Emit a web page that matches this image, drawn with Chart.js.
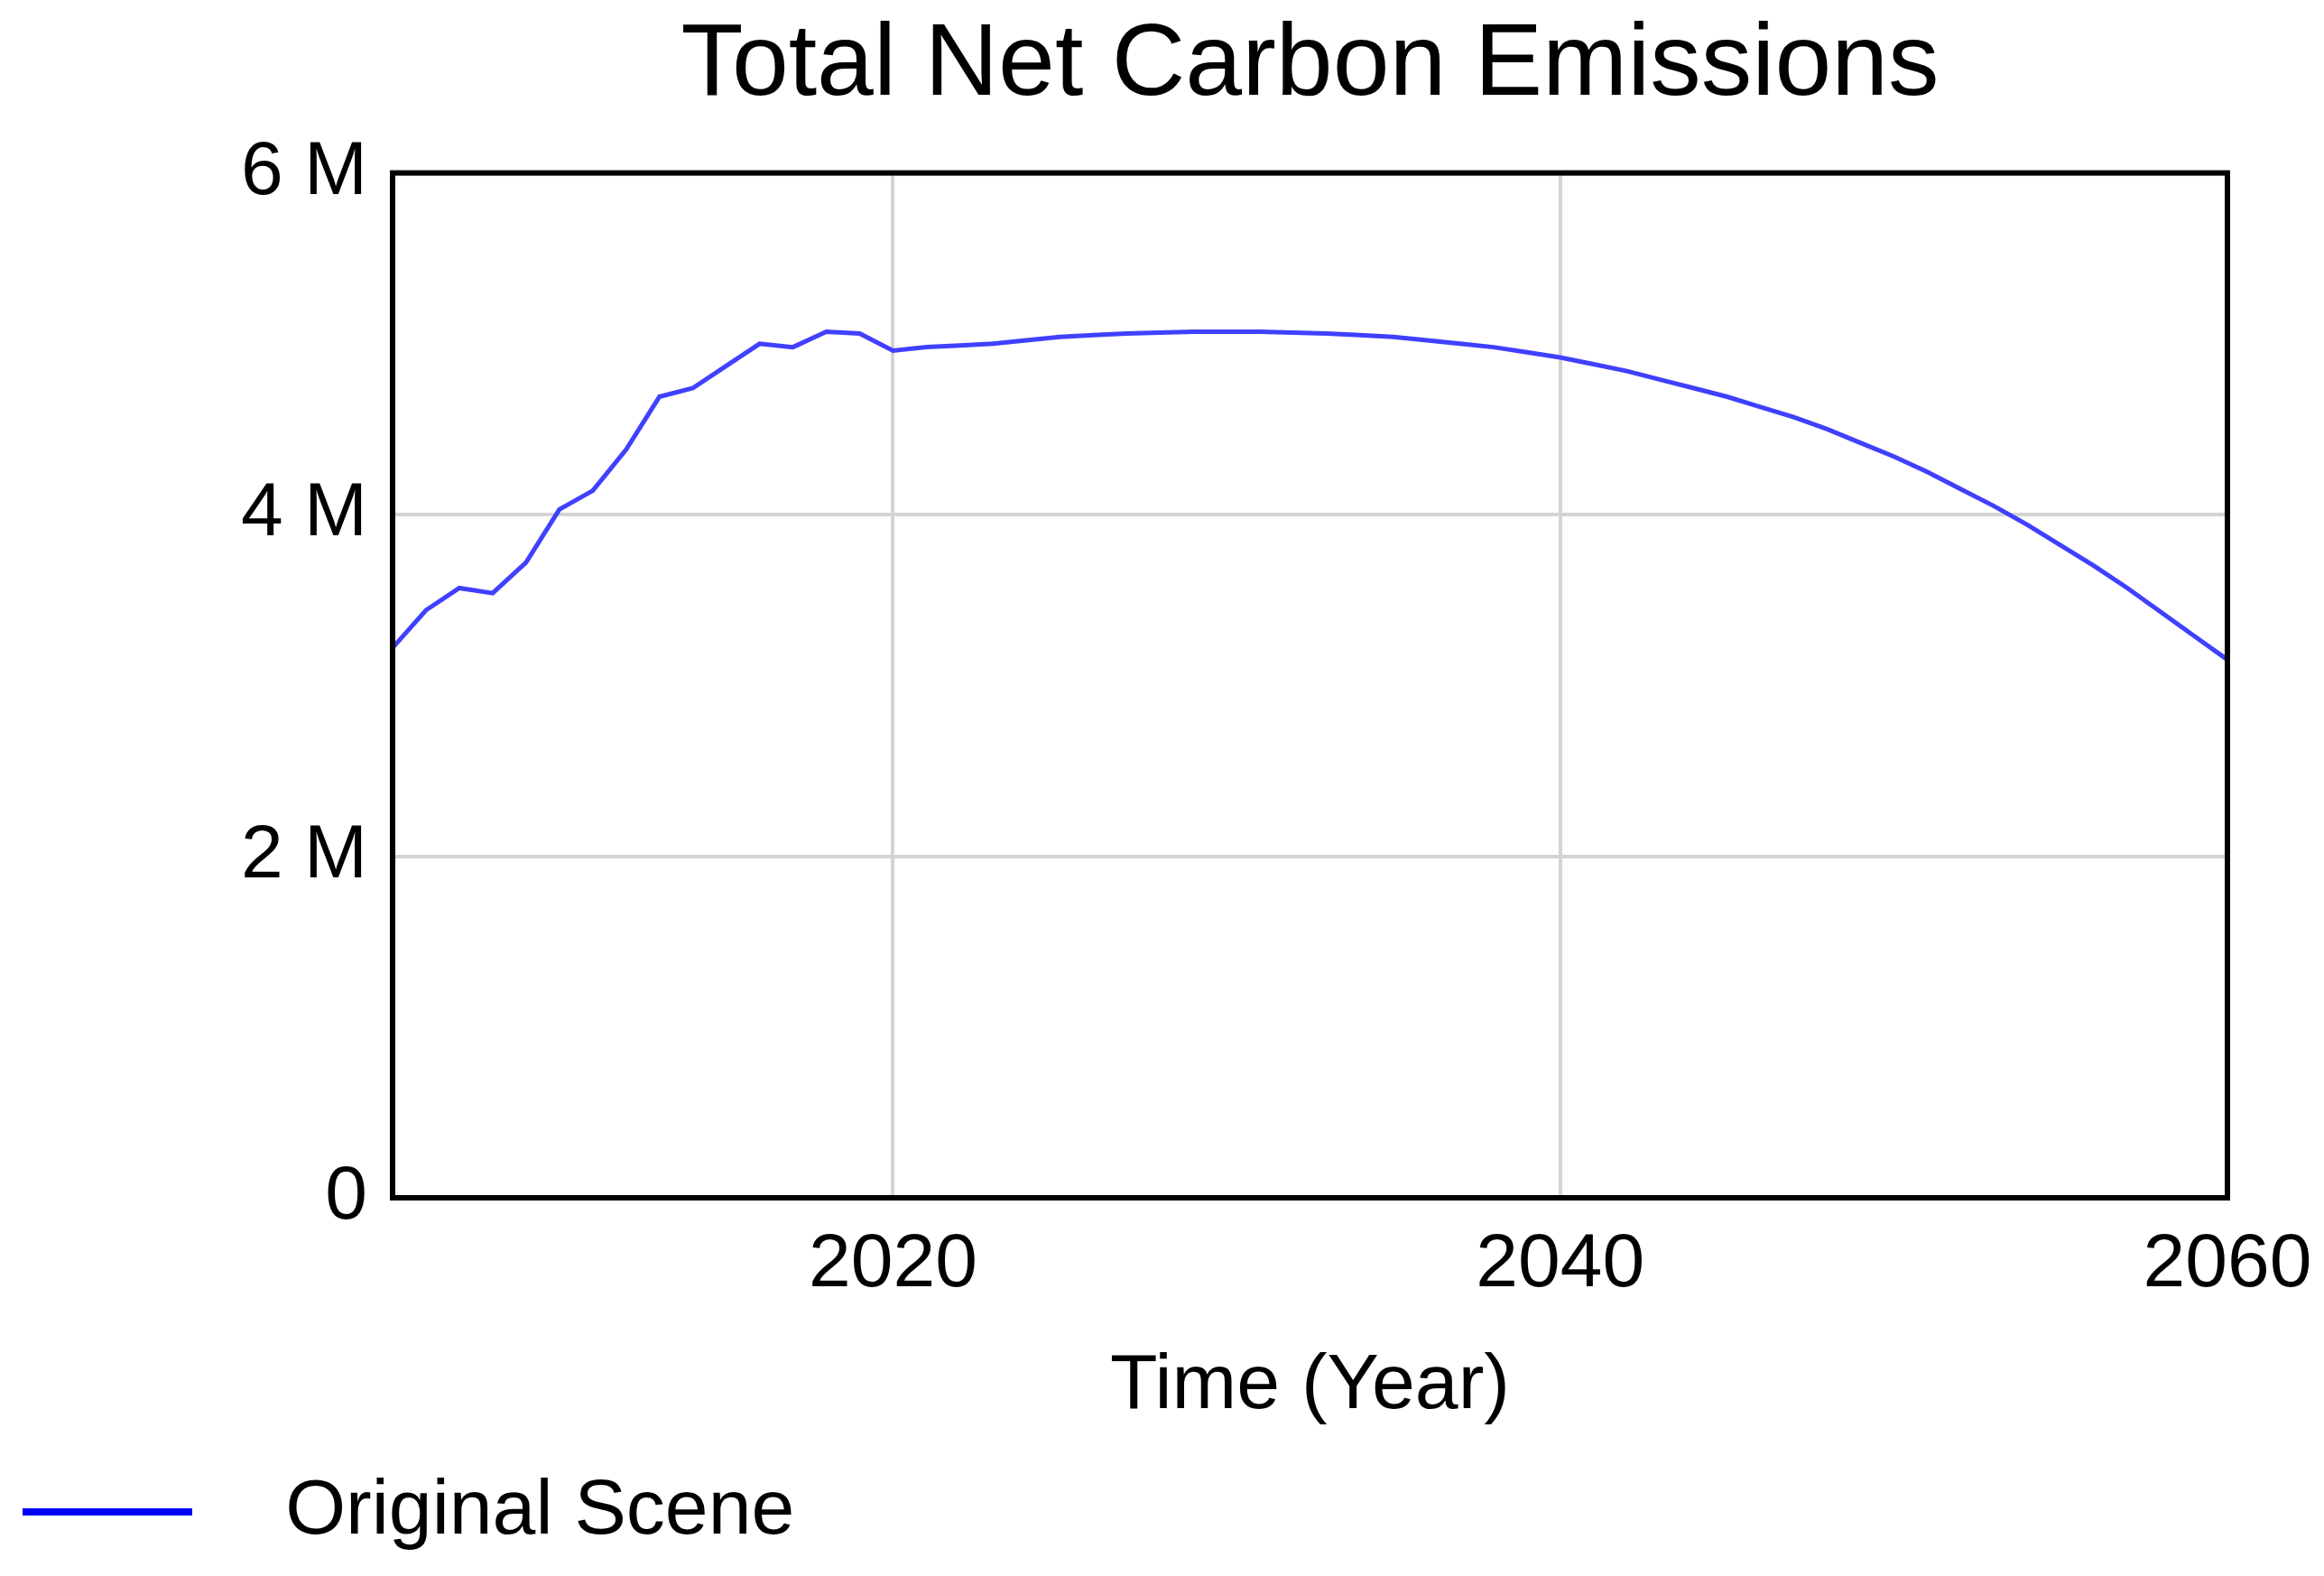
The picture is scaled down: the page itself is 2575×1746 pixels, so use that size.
<!DOCTYPE html>
<html>
<head>
<meta charset="utf-8">
<title>Total Net Carbon Emissions</title>
<script src="https://cdn.jsdelivr.net/npm/chart.js@4.4.1/dist/chart.umd.min.js"></script>
<style>
  html, body { margin: 0; padding: 0; background: #fff; }
  canvas { display: block; }
</style>
</head>
<body>
<canvas id="emissionsChart" width="2575" height="1746"></canvas>
<script>
// Years on the time axis
const years = [
    2005, 2006, 2007, 2008, 2009, 2010, 2011, 2012, 2013, 2014, 2015, 2016, 2017, 2018,
    2019, 2020, 2021, 2022, 2023, 2024, 2025, 2026, 2027, 2028, 2029, 2030, 2031, 2032,
    2033, 2034, 2035, 2036, 2037, 2038, 2039, 2040, 2041, 2042, 2043, 2044, 2045, 2046,
    2047, 2048, 2049, 2050, 2051, 2052, 2053, 2054, 2055, 2056, 2057, 2058, 2059, 2060
];

// Total net carbon emissions (millions)
const emissions = [
    3.22, 3.44, 3.57, 3.54, 3.72, 4.03, 4.14, 4.38, 4.69, 4.74, 4.87, 5.00, 4.98, 5.07,
    5.06, 4.96, 4.98, 4.99, 5.00, 5.02, 5.04, 5.05, 5.06, 5.065, 5.07, 5.07, 5.07, 5.065,
    5.06, 5.05, 5.04, 5.02, 5.00, 4.98, 4.95, 4.92, 4.88, 4.84, 4.79, 4.74, 4.69, 4.63,
    4.57, 4.50, 4.42, 4.34, 4.25, 4.15, 4.05, 3.94, 3.82, 3.70, 3.57, 3.43, 3.29, 3.15
];

const seriesLabel = 'Original Scene';

// Axis ticks
const xTicks = [2020, 2040, 2060];
const yTicks = [0, 2, 4, 6];
const yTickLabels = ['0', '2 M', '4 M', '6 M'];

const fontFamily = "'Liberation Sans', Arial, sans-serif";

// Black box round the plot area
const plotFrame = {
    id: 'plotFrame',
    afterDatasetsDraw(chart) {
        const { ctx, chartArea } = chart;
        ctx.save();
        ctx.strokeStyle = '#000';
        ctx.lineWidth = 6;
        ctx.strokeRect(chartArea.left, chartArea.top,
            chartArea.right - chartArea.left, chartArea.bottom - chartArea.top);
        ctx.restore();
    }
};

const ctx = document.getElementById('emissionsChart').getContext('2d');
const emissionsChart = new Chart(ctx, {
    type: 'line',
    data: {
        datasets: [{
            label: seriesLabel,
            data: years.map((year, i) => ({ x: year, y: emissions[i] })),
            borderColor: 'rgb(64, 64, 255)',
            backgroundColor: '#0000ff',
            borderWidth: 5,
            pointRadius: 0,
            tension: 0,
            fill: false
        }]
    },
    options: {
        responsive: false,
        animation: false,
        layout: {
            padding: { left: 15, right: 107, top: 0, bottom: 18 }
        },
        plugins: {
            title: {
                display: true,
                fullSize: false,   // centre over the plot, not the whole canvas
                text: 'Total Net Carbon Emissions',
                color: '#000',
                font: { family: fontFamily, size: 113, weight: 'normal' },
                padding: { top: 6, bottom: 50 }
            },
            legend: {
                position: 'bottom',
                align: 'start',
                labels: {
                    usePointStyle: true,
                    pointStyle: 'line',
                    pointStyleWidth: 188,
                    padding: 10,
                    color: '#000',
                    font: { family: fontFamily, size: 86 },
                    generateLabels(chart) {
                        const items = Chart.defaults.plugins.legend.labels.generateLabels(chart);
                        items.forEach(item => {
                            item.text = '\u2002\u2009' + item.text;  // wider gap after the line sample
                            item.strokeStyle = '#0000ff';
                            item.lineWidth = 8;
                        });
                        return items;
                    }
                }
            },
            tooltip: { enabled: false }
        },
        scales: {
            x: {
                type: 'linear',
                min: 2005,
                max: 2060,
                afterBuildTicks: scale => {
                    scale.ticks = xTicks.map(v => ({ value: v }));
                },
                afterFit: scale => {
                    scale.height = 295;
                    // the "2060" label may hang past the plot; layout padding already leaves room
                    scale.paddingLeft = 0;
                    scale.paddingRight = 0;
                },
                ticks: {
                    autoSkip: false,
                    maxRotation: 0,
                    padding: 24,
                    color: '#000',
                    font: { family: fontFamily, size: 84 },
                    callback: value => String(value)
                },
                grid: {
                    color: '#d4d4d4',
                    lineWidth: 4,
                    drawTicks: false
                },
                border: { display: false },
                title: {
                    display: true,
                    text: 'Time (Year)',
                    color: '#000',
                    font: { family: fontFamily, size: 86 },
                    padding: { top: 10, bottom: 34 }
                }
            },
            y: {
                min: 0,
                max: 6,
                afterBuildTicks: scale => {
                    scale.ticks = yTicks.map(v => ({ value: v }));
                },
                afterFit: scale => {
                    scale.width = 420;
                },
                ticks: {
                    padding: 28,
                    color: '#000',
                    font: { family: fontFamily, size: 84 },
                    callback: (value, index) => yTickLabels[index]
                },
                grid: {
                    color: '#d4d4d4',
                    lineWidth: 4,
                    drawTicks: false
                },
                border: { display: false }
            }
        }
    },
    plugins: [plotFrame]
});
</script>
</body>
</html>
